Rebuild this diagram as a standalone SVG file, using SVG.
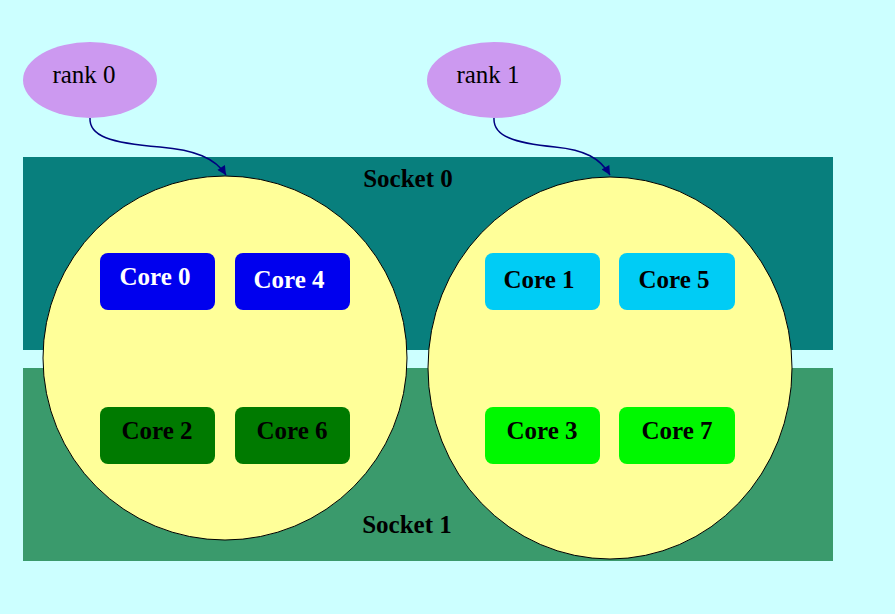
<svg xmlns="http://www.w3.org/2000/svg" width="895" height="614" viewBox="0 0 895 614">
<defs>
<style>
.core{stroke:none}
.ct{font-family:"Liberation Serif","Times New Roman",serif;font-weight:bold;font-size:25px;text-anchor:middle}
.sock{font-family:"Liberation Serif","Times New Roman",serif;font-weight:bold;font-size:25px;text-anchor:middle;fill:#000}
.rank{fill:#cc99f0;stroke:none}
.rt{font-family:"Liberation Serif","Times New Roman",serif;font-size:25px;text-anchor:middle;fill:#000}
.node{fill:#ffff99;stroke:#000;stroke-width:1}
.edge{fill:none;stroke:#000080;stroke-width:1.5}
</style>
<marker id="ah" viewBox="0 0 10 10" refX="10" refY="5" markerWidth="12" markerHeight="9" markerUnits="userSpaceOnUse" orient="auto">
<path d="M0,0 L10,5 L0,10 Z" fill="#000080"/>
</marker>
</defs>
<rect x="0" y="0" width="895" height="614" fill="#ccffff"/>
<g id="socket0">
<rect x="23" y="157" width="810" height="193" fill="#087f7d"/>
</g>
<g id="socket1">
<rect x="23" y="368" width="810" height="193" fill="#3a9a6c"/>
</g>
<g id="socket0-label"><text class="sock" x="408" y="187">Socket 0</text></g>
<g id="socket1-label"><text class="sock" x="407" y="533">Socket 1</text></g>
<g id="proc0">
<ellipse class="node" cx="225" cy="358" rx="182" ry="182"/>
</g>
<g id="proc1">
<ellipse class="node" cx="610" cy="368" rx="182" ry="191"/>
</g>
<g id="core0"><rect class="core" x="100" y="253" width="115" height="57" rx="8" fill="#0000ee"/><text class="ct" x="155" y="285" fill="#fff">Core 0</text></g>
<g id="core4"><rect class="core" x="235" y="253" width="115" height="57" rx="8" fill="#0000ee"/><text class="ct" x="289" y="288" fill="#fff">Core 4</text></g>
<g id="core1"><rect class="core" x="485" y="253" width="115" height="57" rx="8" fill="#00ccf5"/><text class="ct" x="539" y="288" fill="#000">Core 1</text></g>
<g id="core5"><rect class="core" x="619" y="253" width="116" height="57" rx="8" fill="#00ccf5"/><text class="ct" x="674" y="288" fill="#000">Core 5</text></g>
<g id="core2"><rect class="core" x="100" y="407" width="115" height="57" rx="8" fill="#007a00"/><text class="ct" x="157" y="439" fill="#000">Core 2</text></g>
<g id="core6"><rect class="core" x="235" y="407" width="115" height="57" rx="8" fill="#007a00"/><text class="ct" x="292" y="439" fill="#000">Core 6</text></g>
<g id="core3"><rect class="core" x="485" y="407" width="115" height="57" rx="8" fill="#00f800"/><text class="ct" x="542" y="439" fill="#000">Core 3</text></g>
<g id="core7"><rect class="core" x="619" y="407" width="116" height="57" rx="8" fill="#00f800"/><text class="ct" x="677" y="439" fill="#000">Core 7</text></g>
<g id="rank0"><ellipse class="rank" cx="90" cy="80" rx="67" ry="38"/><text class="rt" x="84" y="83">rank 0</text></g>
<g id="rank1"><ellipse class="rank" cx="494" cy="80" rx="67" ry="38"/><text class="rt" x="488" y="83">rank 1</text></g>
<g id="connectors">
<path class="edge" d="M90,118 C89,136 110,143 160,147 C195,150 215,158 226,175" marker-end="url(#ah)"/>
<path class="edge" d="M494,118 C493,136 514,143 555,147 C585,150 600,158 610,175" marker-end="url(#ah)"/>
</g>
</svg>
